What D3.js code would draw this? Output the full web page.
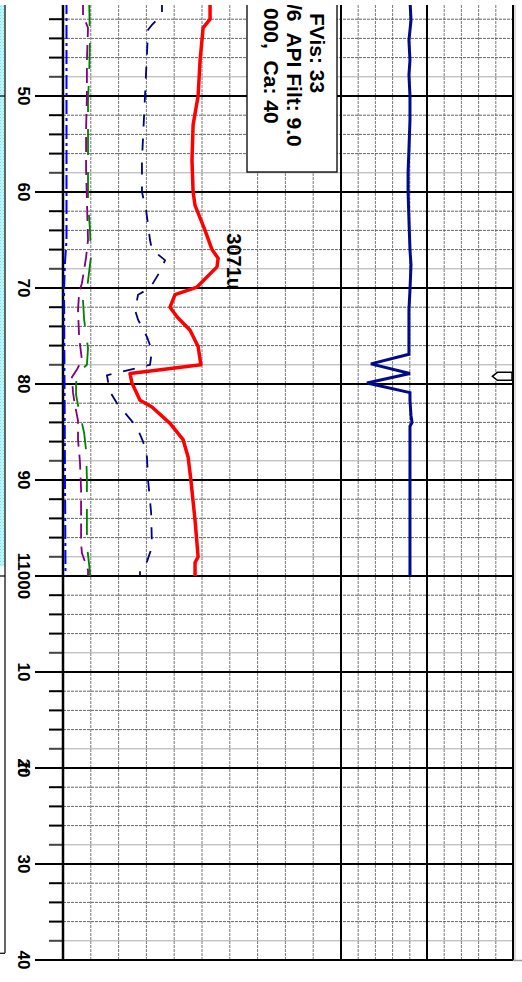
<!DOCTYPE html>
<html><head><meta charset="utf-8">
<script src="https://cdn.jsdelivr.net/npm/d3@7"></script>
<style>body{margin:0;background:#fff;overflow:hidden;} svg{display:block;}</style>
</head><body>
<svg id="c" width="522" height="982"></svg>
<script>
// ---------- DATA ----------
const depthTicks  = [10940,10950,10960,10970,10980,10990,11000,11010,11020,11030,11040];
const depthLabels = ["", "50","60","70","80","90","11000","10","20","30","40"];

const redDepth = [10940,10942.0,10942.9,10946.3,10950.0,10953.0,10956.7,10960.0,10961.4,10964.0,10966.0,10966.9,10967.8,10969.9,10970.7,10972.0,10973.0,10974.4,10976.1,10978.0,10978.9,10979.9,10981.7,10982.4,10984.1,10985.8,10987.6,10990.0,10994.2,10998.0,10998.6,11000.0];
const redValue = [52.9,52.9,50.4,49.3,48.6,46.8,46.4,46.8,47.5,51.1,53.6,55.8,55.4,48.2,40.3,38.5,41.0,45.7,48.6,49.6,24.1,24.8,27.7,32.0,38.5,43.2,45.0,46.0,47.5,48.6,47.5,47.5];

const navyDepth = [10940,10941.5,10942.6,10943.1,10950.0,10956.7,10960.0,10961.9,10965.0,10966.0,10967.1,10968.1,10970.0,10970.7,10972.3,10973.3,10975.1,10976.5,10978.0,10979.1,10980.8,10982.0,10983.4,10984.5,10986.0,10987.6,10990.0,10993.4,10997.0,10998.5,10999.1,11000.0];
const navyValue = [35.6,35.6,32.0,30.6,29.5,28.4,28.4,29.9,31.3,32.0,36.7,35.3,31.3,27.0,25.9,27.0,30.2,32.0,31.3,15.8,16.9,19.4,23.4,26.6,28.8,30.2,30.6,31.7,32.0,30.2,27.7,27.7];

const blueDepth = [10940,10965,10967.3,10970.2,10979.6,11000];
const blueValue = [1.26,1.26,0.72,0.36,0.54,0.9];

const purpleDepth = [10940,10941.6,10942.9,10946.3,10950,10953.5,10957.7,10960.8,10965,10966.8,10968.1,10969.5,10970.5,10972.3,10975.1,10977.5,10978.5,10979.3,10980.9,10982.2,10983.8,10985.8,10988.1,10991.0,10996.6,10997.6,10999.4,11000];
const purpleValue = [7.2,7.2,9.0,8.6,8.6,8.3,8.3,8.6,9.0,8.3,7.6,6.8,5.8,5.4,5.8,6.8,5.0,3.2,3.6,4.3,5.4,5.4,6.1,6.5,6.5,6.8,9.0,9.0];

const greenDepth = [10940,10944.2,10947.8,10950.4,10960.8,10964.0,10966.7,10967.6,10970.2,10971.3,10973.3,10976.3,10978.0,10978.9,10980.1,10981.1,10982.2,10985.1,10986.9,10989.8,10994.7,10996.8,10999.6,11000];
const greenValue = [9.4,9.7,9.4,9.0,9.0,9.7,10.1,9.7,8.6,7.2,7.6,9.0,8.6,5.0,4.7,4.7,5.4,7.6,8.3,8.6,8.6,8.6,9.7,9.7];

const rateDepth = [10940,10942.1,10944.2,10946.3,10947.8,10950,10952.5,10955.6,10957.9,10960,10962.9,10966.0,10967.6,10970.2,10972.3,10974.4,10976.9,10977.9,10978.9,10979.9,10980.9,10981.7,10983.3,10984.0,10984.4,10987.9,10992.1,10996.3,11000];
const rateValue = [40.1,40.7,39.5,40.1,39.5,40.1,40.1,39.5,39.0,39.0,39.5,40.1,40.7,40.1,39.5,39.5,39.5,17.4,40.1,15.1,40.1,40.1,40.7,41.3,40.1,40.1,40.1,40.1,40.1];

const mudLines = ["FVis: 33", "/6  API Filt: 9.0", "000,  Ca: 40"];
const peakLabel = "3071u";
const peakDepth = 10964.3;
const markerDepth = 10979.2;
const markerValue = 88;
const lithoTop = 10940, lithoBottom = 10999;

// ---------- SCALES ----------
const svg = d3.select("#c");
const y  = d3.scaleLinear().domain([10940, 11040]).range([0, 960]);
const x1 = d3.scaleLinear().domain([0, 100]).range([63, 341]);
const x2 = d3.scaleLinear().domain([0, 100]).range([341, 513]);
const zip = (ds, vs) => ds.map((d, i) => ({d, v: vs[i]}));
const FONT = "'Liberation Sans', Arial, sans-serif";

const defs = svg.append("defs");
defs.append("clipPath").attr("id","plot").append("rect").attr("x",0).attr("y",5).attr("width",522).attr("height",957);
defs.append("clipPath").attr("id","t1").append("rect").attr("x",63).attr("y",5).attr("width",278).attr("height",955);
const pat = defs.append("pattern").attr("id","cy").attr("width",3).attr("height",3).attr("patternUnits","userSpaceOnUse");
pat.append("rect").attr("width",3).attr("height",3).attr("fill","#c4f6f9");
pat.append("rect").attr("width",1).attr("height",1).attr("fill","#6fe3ee");
pat.append("rect").attr("x",1.5).attr("y",1.5).attr("width",1).attr("height",1).attr("fill","#8aeaf2");

const g = svg.append("g").attr("clip-path","url(#plot)");

// left lithology strip
g.append("rect").attr("x",0).attr("y",y(lithoTop)).attr("width",4.5).attr("height",y(lithoBottom)-y(lithoTop)).attr("fill","url(#cy)");
g.append("line").attr("x1",5).attr("x2",5).attr("y1",5).attr("y2",953).attr("stroke","#000").attr("stroke-width",1.2);
[10950, 11000, 11039.3].forEach(d => g.append("line").attr("x1",0).attr("x2",5).attr("y1",y(d)).attr("y2",y(d)).attr("stroke","#000").attr("stroke-width",1.2));

// minor vertical grid
const minorV = [];
d3.range(10, 100, 10).forEach(v => minorV.push(x1(v)));
d3.range(10, 100, 10).filter(v => v !== 50).forEach(v => minorV.push(x2(v)));
g.selectAll(".mv").data(minorV).join("line")
  .attr("x1", d => d).attr("x2", d => d).attr("y1", 5).attr("y2", 960)
  .attr("stroke", "#777").attr("stroke-width", 1).attr("stroke-dasharray", "3,1");

// horizontal grid and depth ticks
const allDepths = d3.range(10940, 11041, 2);
allDepths.forEach(d => {
  const yy = y(d);
  if (d % 10 === 0) return;
  const light = d % 10 === 8;
  g.append("line").attr("x1",63).attr("x2",513).attr("y1",yy).attr("y2",yy)
    .attr("stroke", light ? "#aaa" : "#666").attr("stroke-width",1)
    .attr("stroke-dasharray", light ? null : "3,1");
  g.append("line").attr("x1",49).attr("x2",63).attr("y1",yy).attr("y2",yy)
    .attr("stroke", light ? "#444" : "#000").attr("stroke-width",2);
});
depthTicks.forEach(d => {
  g.append("line").attr("x1",35).attr("x2",513).attr("y1",y(d)).attr("y2",y(d))
    .attr("stroke","#000").attr("stroke-width",2);
});

// major vertical lines
[[63,2.5],[341,2],[427,2],[513,2]].forEach(([x,w]) =>
  g.append("line").attr("x1",x).attr("x2",x).attr("y1",5).attr("y2",961).attr("stroke","#000").attr("stroke-width",w));
g.append("line").attr("x1",515).attr("x2",515).attr("y1",5).attr("y2",961).attr("stroke","#bbb").attr("stroke-width",1);
svg.append("line").attr("x1",513).attr("x2",522).attr("y1",960.5).attr("y2",960.5).attr("stroke","#999").attr("stroke-width",1.5);

// depth labels
depthTicks.forEach((d, i) => {
  if (!depthLabels[i]) return;
  svg.append("text").attr("transform", `translate(18,${y(d)}) rotate(90)`)
    .attr("text-anchor","middle").attr("font-family",FONT)
    .attr("font-weight","bold").attr("font-size",17).attr("fill","#000").text(depthLabels[i]);
});
svg.append("text").attr("transform", `translate(18,${y(11020)}) rotate(90)`)
  .attr("text-anchor","middle").attr("font-family",FONT)
  .attr("font-weight","bold").attr("font-size",17).attr("fill","#000").text("ft");

// mud legend box
const lg = g.append("g");
lg.append("rect").attr("x",247).attr("y",-10).attr("width",90).attr("height",182)
  .attr("fill","#fff").attr("stroke","#000").attr("stroke-width",1.3);
const lineX = [309.5, 286.5, 263.5], lineY = [13, 4, 8];
mudLines.forEach((t, i) => {
  lg.append("text").attr("transform", `translate(${lineX[i]},${lineY[i]}) rotate(90)`)
    .attr("font-family",FONT).attr("font-weight","bold")
    .attr("font-size",21).attr("fill","#000").style("white-space","pre").text(t);
});

// curves
const line = (xs) => d3.line().x(d => xs(d.v)).y(d => y(d.d));
const cg = g.append("g").attr("clip-path","url(#t1)");
cg.append("path").datum(zip(blueDepth, blueValue)).attr("d", line(x1))
  .attr("fill","none").attr("stroke","#0000ff").attr("stroke-width",2).attr("stroke-dasharray","14,4,3,4");
cg.append("path").datum(zip(greenDepth, greenValue)).attr("d", line(x1))
  .attr("fill","none").attr("stroke","#008000").attr("stroke-width",1.8).attr("stroke-dasharray","26,17");
cg.append("path").datum(zip(purpleDepth, purpleValue)).attr("d", line(x1))
  .attr("fill","none").attr("stroke","#800080").attr("stroke-width",1.8).attr("stroke-dasharray","15,8");
cg.append("path").datum(zip(navyDepth, navyValue)).attr("d", line(x1))
  .attr("fill","none").attr("stroke","#000080").attr("stroke-width",1.8).attr("stroke-dasharray","12,12");
cg.append("path").datum(zip(redDepth, redValue)).attr("d", line(x1))
  .attr("fill","none").attr("stroke","#ff0000").attr("stroke-width",3.5).attr("stroke-linejoin","round");

g.append("path").datum(zip(rateDepth, rateValue)).attr("d", line(x2))
  .attr("fill","none").attr("stroke","#000a8c").attr("stroke-width",3).attr("stroke-linejoin","miter");

// peak label
g.append("text").attr("transform", `translate(${x1(59.0)},${y(peakDepth)}) rotate(90)`)
  .attr("font-family",FONT).attr("font-weight","bold")
  .attr("font-size",20).attr("fill","#000").text(peakLabel);

// marker flag
const mx = x2(markerValue), my = y(markerDepth);
g.append("path").attr("d", `M${mx},${my} L${mx+5},${my-4} L${x2(100)-1},${my-4} L${x2(100)-1},${my+4} L${mx+5},${my+4} Z`)
  .attr("fill","#fff").attr("stroke","#000").attr("stroke-width",1.5);
</script>
</body></html>
